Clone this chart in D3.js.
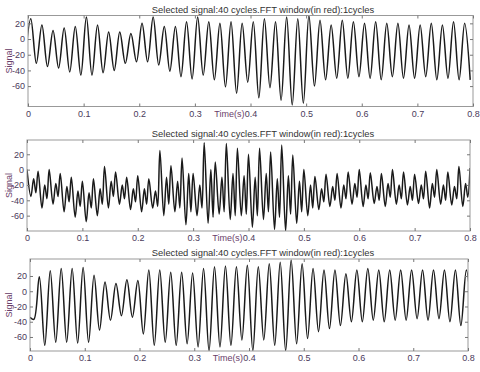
<!DOCTYPE html>
<html>
<head>
<meta charset="utf-8">
<script src="https://cdnjs.cloudflare.com/ajax/libs/d3/7.8.5/d3.min.js"></script>
<style>
body { margin: 0; background: #fff; }
text { font-family: Arial, "Liberation Sans", sans-serif; }
</style>
</head>
<body>
<div id="chart"></div>
<script>
var title = 'Selected signal:40 cycles.FFT window(in red):1cycles';
var timeTicks = [0, 0.1, 0.2, 0.3, 0.4, 0.5, 0.6, 0.7, 0.8];
var signalTicks = [20, 0, -20, -40, -60];

// signal 1: one peak and one trough per 50 Hz cycle
var sig1Peaks = [26, 18, 11, 14, 16, 28, 18, 9, 9, 7,
                 20, 28, 16, 16, 22, 28, 22, 20, 22, 20,
                 22, 26, 22, 28, 26, 30, 24, 18, 24, 22,
                 20, 22, 20, 20, 18, 18, 20, 18, 22, 20];
var sig1Troughs = [-25, -31, -35, -37, -42, -46, -46, -43, -40, -31,
                   -29, -29, -33, -41, -48, -51, -46, -52, -61, -69,
                   -55, -75, -62, -78, -84, -82, -60, -52, -50, -50,
                   -48, -50, -52, -48, -50, -50, -48, -52, -50, -52, -52];

// signal 2: noisy, two humps per cycle
var sig2Peaks = [0, -2, 0, -5, -10, -15, -12, 4, -3, -10,
                 -8, -12, 25, 5, 15, -5, 35, 10, 34, 28,
                 20, 28, 23, 32, 19, 0, -9, -6, -5, -3,
                 0, -4, -5, 0, -3, -6, -2, 0, -3, 4, 2];
var sig2Lows = [-35, -50, -45, -55, -62, -68, -60, -50, -45, -52,
                -55, -50, -60, -55, -72, -60, -70, -58, -65, -60,
                -75, -65, -78, -80, -70, -60, -52, -48, -50, -45,
                -48, -44, -48, -45, -46, -44, -50, -45, -46, -48];
var sig2Mids = [-12, -20, -18, -22, -28, -30, -25, -15, -20, -25,
                -25, -28, -10, -15, -5, -20, 0, -10, -5, -8,
                -10, -5, -12, -8, -15, -20, -25, -22, -20, -18,
                -20, -22, -18, -20, -22, -20, -18, -20, -22, -18];
var sig2Dips = [-30, -38, -35, -42, -48, -50, -45, -35, -38, -42,
                -45, -48, -45, -50, -55, -50, -62, -55, -60, -58,
                -60, -55, -62, -58, -55, -50, -42, -40, -38, -36,
                -38, -40, -36, -38, -40, -38, -36, -40, -38, -36];

// signal 3: clean large sinusoid
var sig3Start = -34;
var sig3Peaks = [19, 27, 30, 30, 31, 21, 12, 10, 15, 14,
                 28, 28, 25, 25, 24, 30, 32, 33, 32, 34,
                 32, 36, 38, 41, 36, 30, 28, 28, 23, 28,
                 30, 28, 28, 28, 28, 28, 28, 28, 28, 28];
var sig3Troughs = [-37, -71, -67, -67, -68, -67, -51, -38, -32, -34,
                   -56, -71, -67, -71, -69, -73, -78, -73, -71, -64,
                   -78, -64, -71, -78, -69, -62, -53, -49, -45, -40,
                   -40, -38, -40, -38, -38, -36, -38, -36, -40, -45, -40];

function wave(parts) {
    var pts = [];
    parts.forEach(function (p) {
        p.values.forEach(function (v, i) {
            pts.push({t: p.start + 0.02 * i, v: v});
        });
    });
    return pts.sort((a, b) => a.t - b.t);
}

var panels = [
    {top: 15.5, bottom: 106.5, left: 28, right: 473, yMin: -86, yMax: 30,
     points: wave([{start: 0.005, values: sig1Peaks}, {start: -0.005, values: sig1Troughs}])},
    {top: 140, bottom: 231, left: 27, right: 470, yMin: -80, yMax: 38.6,
     points: wave([{start: 0, values: sig2Peaks}, {start: 0.007, values: sig2Lows},
                   {start: 0.012, values: sig2Mids}, {start: 0.016, values: sig2Dips}])},
    {top: 259, bottom: 351, left: 30, right: 468, yMin: -78.4, yMax: 42.3,
     points: [{t: 0, v: sig3Start}].concat(wave([{start: 0.017, values: sig3Peaks}, {start: 0.007, values: sig3Troughs}]))}
];

var svg = d3.select('#chart')
    .append('svg')
    .attr('width', 480)
    .attr('height', 372);

panels.forEach(function (p, i) {
    var x = d3.scaleLinear().domain([0, 0.8]).range([p.left, p.right]);
    var y = d3.scaleLinear().domain([p.yMin, p.yMax]).range([p.bottom, p.top]);
    var g = svg.append('g');

    g.append('clipPath').attr('id', 'clip' + i)
        .append('rect')
        .attr('x', p.left).attr('y', p.top)
        .attr('width', p.right - p.left).attr('height', p.bottom - p.top);

    g.append('path')
        .datum(p.points)
        .attr('clip-path', `url(#clip${i})`)
        .attr('fill', 'none')
        .attr('stroke', '#1a1a1a')
        .attr('stroke-width', 1.5)
        .attr('stroke-linejoin', 'round')
        .attr('d', d3.line().x(d => x(d.t)).y(d => y(d.v)).curve(d3.curveCatmullRom));

    g.append('rect')
        .attr('x', p.left).attr('y', p.top)
        .attr('width', p.right - p.left).attr('height', p.bottom - p.top)
        .attr('fill', 'none')
        .attr('stroke', '#999');

    g.append('g').attr('transform', `translate(0,${p.bottom})`)
        .call(d3.axisBottom(x).tickValues(timeTicks).tickSize(-3).tickPadding(4).tickFormat(String));
    g.append('g').attr('transform', `translate(${p.left},0)`)
        .call(d3.axisLeft(y).tickValues(signalTicks).tickSize(-3).tickPadding(3).tickFormat(String));
    g.append('g').attr('transform', `translate(0,${p.top})`)
        .call(d3.axisTop(x).tickValues(timeTicks).tickSize(-3).tickFormat(''));
    g.append('g').attr('transform', `translate(${p.right},0)`)
        .call(d3.axisRight(y).tickValues(signalTicks).tickSize(-3).tickFormat(''));

    g.selectAll('.domain').remove();
    g.selectAll('.tick line').attr('stroke', '#777');
    g.selectAll('.tick text')
        .attr('font-size', 9)
        .attr('font-family', 'Arial, "Liberation Sans", sans-serif')
        .attr('fill', '#4a3a5a');

    svg.append('text')
        .attr('x', 263).attr('y', p.top - 3)
        .attr('text-anchor', 'middle')
        .attr('font-size', 9.4)
        .attr('fill', '#333')
        .text(title);

    svg.append('text')
        .attr('x', x(0.4) - 6).attr('y', p.bottom + 10.4)
        .attr('text-anchor', 'end')
        .attr('font-size', 9)
        .attr('fill', '#6a406a')
        .text('Time(s)');

    svg.append('text')
        .attr('transform', `translate(12,${(p.top + p.bottom) / 2})rotate(-90)`)
        .attr('text-anchor', 'middle')
        .attr('font-size', 9)
        .attr('fill', '#6a406a')
        .text('Signal');
});
</script>
</body>
</html>
